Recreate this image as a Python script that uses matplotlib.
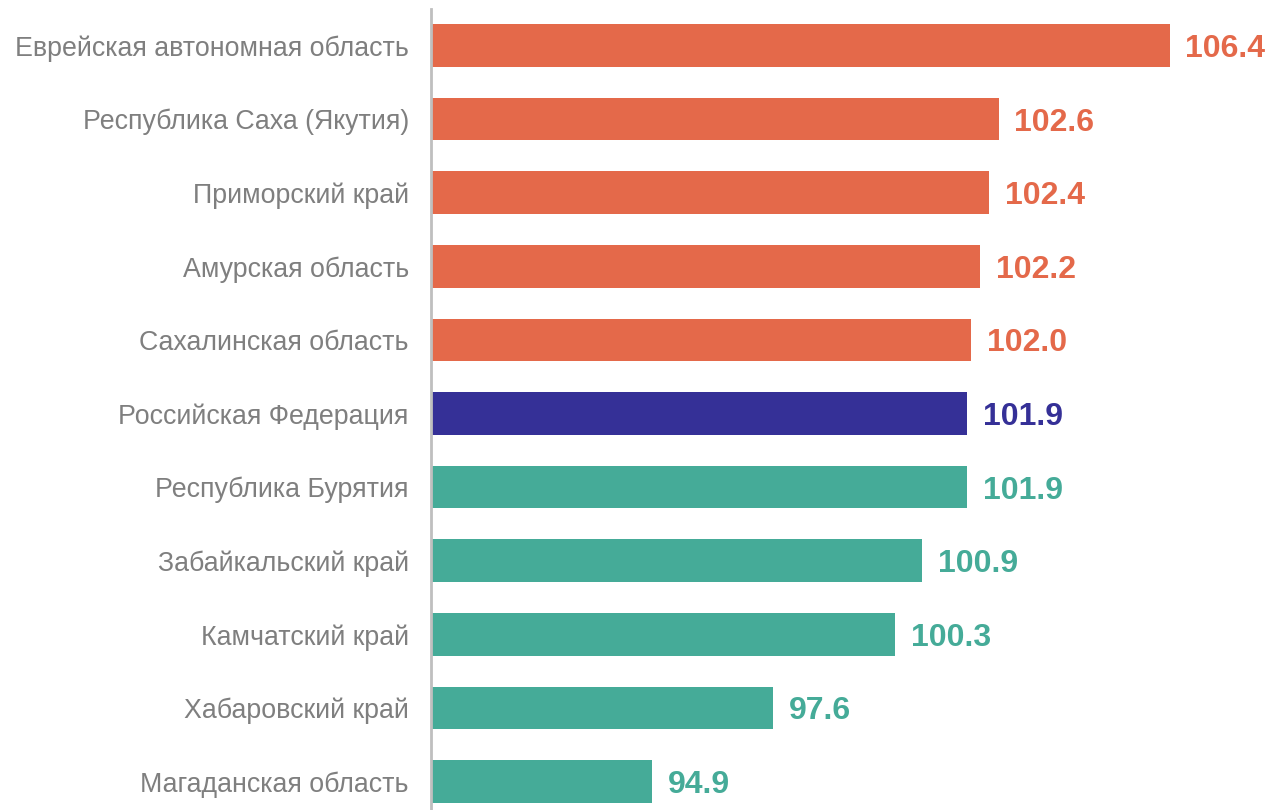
import matplotlib
matplotlib.use("Agg")
import matplotlib.pyplot as plt

categories = [
    "Еврейская автономная область",
    "Республика Саха (Якутия)",
    "Приморский край",
    "Амурская область",
    "Сахалинская область",
    "Российская Федерация",
    "Республика Бурятия",
    "Забайкальский край",
    "Камчатский край",
    "Хабаровский край",
    "Магаданская область",
]
values = [106.4, 102.6, 102.4, 102.2, 102.0, 101.9, 101.9, 100.9, 100.3, 97.6, 94.9]
groups = ["high"] * 5 + ["rf"] + ["low"] * 5
value_labels = ["106.4", "102.6", "102.4", "102.2", "102.0", "101.9", "101.9", "100.9", "100.3", "97.6", "94.9"]

palette = {"high": "#E4694A", "rf": "#353097", "low": "#45AB98"}
base = 90.0

plt.rcParams["font.family"] = ["Liberation Sans", "DejaVu Sans"]
fig = plt.figure(figsize=(12.71, 8.10), dpi=100)
ax = fig.add_axes([431 / 1271, 0.0, 1 - 431 / 1271, 1 - 9 / 810])

ypos = list(range(len(categories)))
colors = [palette[g] for g in groups]
ax.barh(ypos, [v - base for v in values], left=base, height=0.58, color=colors)

for y, v, lab, c in zip(ypos, values, value_labels, colors):
    ax.text(v + 0.35, y, lab, va="center_baseline", ha="left", fontsize=23,
            fontweight="bold", color=c)

ax.set_xlim(base, base + 840 / 45.04)
ax.set_ylim(10.387, -0.496)
ax.set_yticks(ypos)
ax.set_yticklabels(categories, fontsize=19.3, color="#7F7F7F")
ax.tick_params(axis="y", length=0, pad=16)
ax.set_xticks([])
for s in ["top", "right", "bottom"]:
    ax.spines[s].set_visible(False)
ax.spines["left"].set_color("#BFBFBF")
ax.spines["left"].set_linewidth(2)

fig.savefig("out.png", dpi=100)
